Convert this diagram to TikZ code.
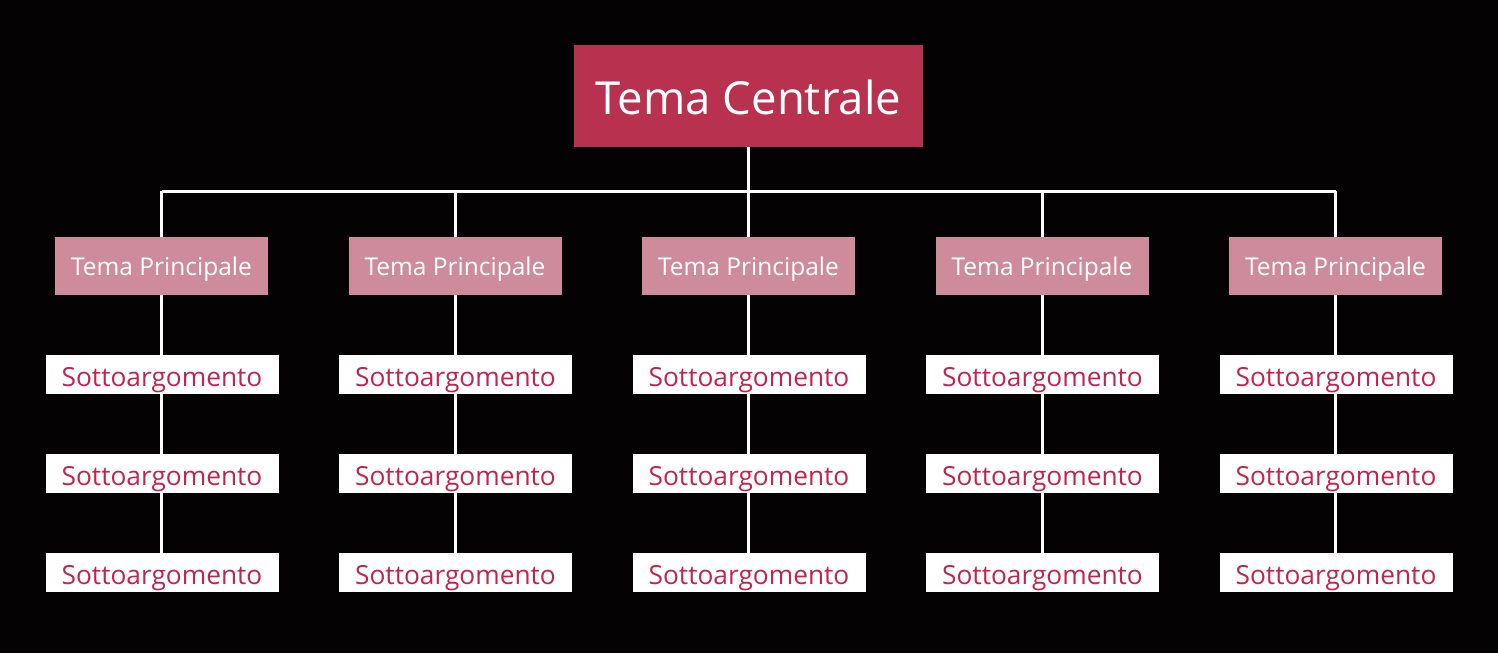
\documentclass[tikz,border=0pt]{standalone}
\usepackage{fontspec}
\setmainfont{Open Sans}
\definecolor{bgc}{HTML}{040203}
\definecolor{centralc}{HTML}{B8314F}
\definecolor{princc}{HTML}{CE8B9C}
\definecolor{subtext}{HTML}{C0254F}
\begin{document}
\begin{tikzpicture}[x=1pt,y=-1pt,
  centralbox/.style={fill=centralc,text=white,minimum width=349pt,minimum height=102pt,inner sep=0pt,text height=36pt,text depth=0pt,font=\fontsize{45.5}{54}\selectfont},
  princbox/.style={fill=princc,text=white,minimum width=213pt,minimum height=58pt,inner sep=0pt,text height=19.5pt,text depth=0pt,font=\fontsize{24.5}{29}\selectfont},
  subbox/.style={fill=white,text=subtext,minimum width=233pt,minimum height=39pt,inner sep=0pt,text height=23pt,text depth=0pt,font=\fontsize{26.3}{31}\selectfont},
  conn/.style={draw=white,line width=3pt}]
\fill[bgc] (0,0) rectangle (1498,653);
\useasboundingbox (0,0) rectangle (1498,653);
\node[centralbox] (c) at (748.5,96) {Tema Centrale};
\coordinate (hl) at (161.5,191);
\coordinate (hr) at (1335.5,191);
\coordinate (hc) at (748.5,191);
\draw[conn] (c.south) -- (hc);
\draw[conn] (hl) -- (hr);
\foreach \i/\x in {1/161.5,2/455,3/748.5,4/1042,5/1335.5}{
  \coordinate (t\i) at (\x,191);
  \node[princbox] (p\i) at (\x,266) {Tema Principale};
  \node[subbox] (s\i a) at (\x+0.5,374.5) {Sottoargomento};
  \node[subbox] (s\i b) at (\x+0.5,473.5) {Sottoargomento};
  \node[subbox] (s\i c) at (\x+0.5,572.5) {Sottoargomento};
  \draw[conn] (t\i) -- (p\i.north);
  \draw[conn] (p\i.south) -- (p\i.south |- s\i a.north);
  \draw[conn] (p\i.south |- s\i a.south) -- (p\i.south |- s\i b.north);
  \draw[conn] (p\i.south |- s\i b.south) -- (p\i.south |- s\i c.north);
}
\end{tikzpicture}
\end{document}
